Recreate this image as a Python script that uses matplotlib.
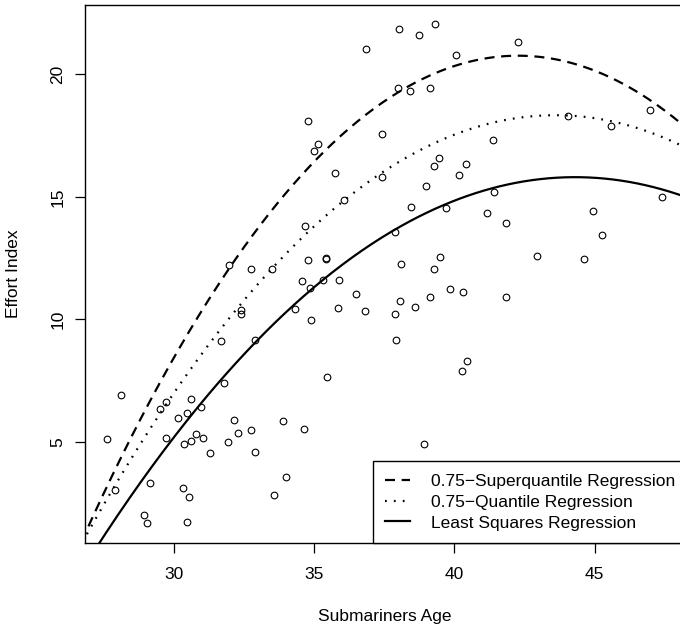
import numpy as np
import matplotlib
matplotlib.use("Agg")
import matplotlib.pyplot as plt

plt.rcParams['font.family'] = ['Liberation Sans', 'DejaVu Sans']

# submariners: age vs. effort index
age = [36.86, 34.80, 35.14, 35.01, 35.75, 36.07, 34.69, 34.78, 35.43, 35.43,
       31.97, 32.75, 33.50, 34.57, 34.85, 35.32, 35.90, 36.50,
       38.03, 38.73, 39.31, 42.27, 40.05, 38.00, 38.42, 39.14, 46.99, 44.06,
       45.58, 37.43, 41.39, 39.44, 39.28, 40.42, 40.16, 37.42, 39.00, 41.40,
       47.40, 38.45, 39.69, 41.16, 44.94, 41.84, 45.28, 37.89, 38.09, 39.50,
       39.29, 42.93, 44.62, 39.84, 40.30, 39.12, 41.85, 38.06,
       37.89, 38.59, 37.93, 40.45, 40.27, 38.91,
       35.85, 36.83, 34.88, 34.32, 32.40, 32.40, 31.70, 32.91, 31.80, 35.46,
       28.11, 29.52, 29.73, 30.63, 30.97, 30.14, 30.46, 32.16, 33.89, 34.65,
       29.73, 30.78, 31.06, 30.37, 30.60, 31.95, 32.30, 32.77, 31.31, 32.88,
       27.64, 29.16, 27.91, 30.33, 30.53, 34.02, 33.57, 28.95, 29.04, 30.48]
effort = [21.03, 18.09, 17.16, 16.87, 15.97, 14.85, 13.82, 12.43, 12.50, 12.45,
          12.20, 12.06, 12.05, 11.54, 11.28, 11.61, 11.60, 11.01,
          21.87, 21.62, 22.06, 21.32, 20.79, 19.44, 19.32, 19.43, 18.54, 18.29,
          17.87, 17.57, 17.32, 16.60, 16.27, 16.34, 15.87, 15.80, 15.42, 15.18,
          15.01, 14.59, 14.55, 14.32, 14.43, 13.91, 13.43, 13.55, 12.27, 12.55,
          12.07, 12.57, 12.46, 11.23, 11.11, 10.90, 10.89, 10.75,
          10.22, 10.49, 9.15, 8.30, 7.89, 4.92,
          10.45, 10.35, 9.96, 10.41, 10.37, 10.20, 9.11, 9.15, 7.40, 7.64,
          6.89, 6.34, 6.60, 6.73, 6.41, 5.97, 6.16, 5.90, 5.86, 5.52,
          5.15, 5.31, 5.15, 4.92, 5.01, 4.98, 5.35, 5.49, 4.53, 4.57,
          5.12, 3.33, 3.04, 3.10, 2.73, 3.55, 2.81, 2.01, 1.66, 1.70]

# fitted quadratics in vertex form: effort = peak_y + curv * (age - peak_x)^2
fit_names = ['0.75\u2212Superquantile Regression',
             '0.75\u2212Quantile Regression',
             'Least Squares Regression']
peak_x = [42.27, 43.60, 44.30]
peak_y = [20.76, 18.33, 15.80]
curv = [-0.082, -0.0614, -0.052]
styles = [dict(ls=(0, (4.5, 3.0))), dict(ls=(0, (0.8, 3.2))), dict(ls='-')]

fig = plt.figure(figsize=(6.8, 6.27), dpi=100)
ax = fig.add_axes([85 / 680, 1 - 542.7 / 627, 600 / 680, 537.7 / 627])

ax.plot(age, effort, 'o', mfc='none', mec='black', ms=4.8, mew=0.8)

grid = np.linspace(26, 49, 400)
for name, px, py, c, st in zip(fit_names, peak_x, peak_y, curv, styles):
    ax.plot(grid, py + c * (grid - px) ** 2, color='black', lw=1.6,
            dash_capstyle='butt', label=name, **st)

ax.set_xlim(26.84, 48.22)
ax.set_ylim(0.874, 22.83)
ax.set_xticks([30, 35, 40, 45])
ax.set_yticks([5, 10, 15, 20])
ax.tick_params(direction='out', length=7.2, width=0.9, labelsize=12.5,
               color='black')
ax.tick_params(axis='x', pad=10)
ax.tick_params(axis='y', labelrotation=90, pad=7)
for lab in ax.get_yticklabels():
    lab.set_va('center')
for sp in ax.spines.values():
    sp.set_linewidth(1.0)
    sp.set_color('black')

ax.set_xlabel('Submariners Age', fontsize=12.5, va='center')
ax.set_ylabel('Effort Index', fontsize=12.5, va='center')
ax.xaxis.set_label_coords(0.5, -74 / 537.7)
ax.yaxis.set_label_coords(-(85 - 14) / 600, 0.5)

leg = ax.legend(loc='lower left', bbox_to_anchor=((372.7 - 85) / 600, 0),
                borderaxespad=0, fontsize=12.5, frameon=True, fancybox=False,
                borderpad=0.7, handlelength=1.44, handletextpad=1.2,
                labelspacing=0.33)
leg.get_frame().set_edgecolor('black')
leg.get_frame().set_linewidth(1.0)
leg.get_frame().set_alpha(1)

fig.savefig('out.png', dpi=100)
